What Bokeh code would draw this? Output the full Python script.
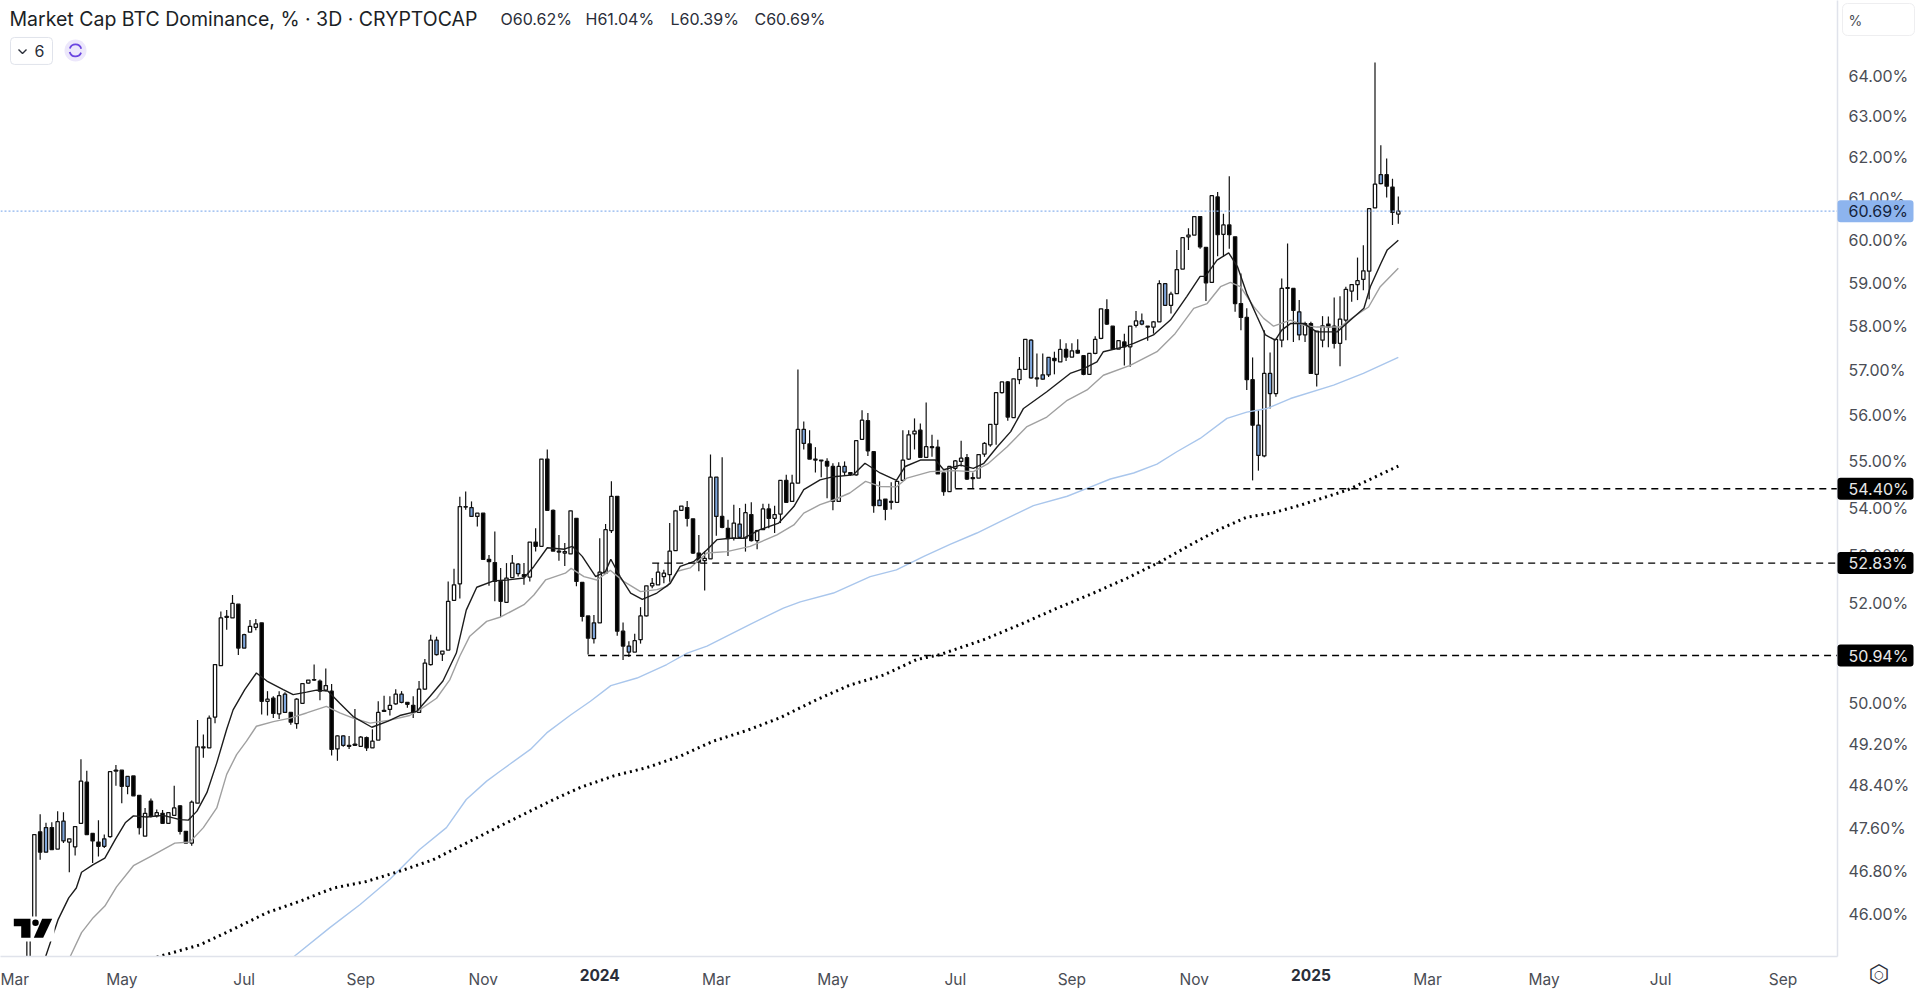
import math
from datetime import datetime, timedelta
from bokeh.plotting import figure
from bokeh.core.properties import value
from bokeh.models import Range1d, FixedTicker, PrintfTickFormatter, Quad
from bokeh.embed import file_html
from bokeh.resources import INLINE

open_ = [
44.50,45.73,47.52,47.60,47.60,47.20,47.72,47.33,47.24,47.68,
48.46,47.49,47.33,47.39,47.43,48.67,48.69,48.57,48.58,48.21,
47.44,48.10,47.82,47.87,47.68,47.83,48.01,47.53,47.31,48.06,
49.12,49.12,49.72,50.74,51.71,51.70,51.98,51.36,51.41,51.51,
51.60,50.03,50.09,49.78,50.17,49.81,49.59,49.99,50.39,50.45,
50.43,50.25,50.23,49.10,49.35,49.15,49.17,49.15,49.32,49.12,
49.27,49.83,49.87,49.98,50.17,50.01,49.95,49.81,50.27,50.76,
51.25,50.97,51.05,52.06,52.40,54.01,54.00,53.81,53.88,52.91,
52.84,52.45,52.02,52.53,52.81,52.59,52.54,53.27,53.18,55.04,
53.94,53.06,53.04,53.02,53.77,52.43,51.74,51.60,51.60,52.62,
53.51,54.24,51.43,51.13,51.01,51.26,51.74,52.36,52.38,52.55,
52.59,53.09,53.94,54.00,53.76,53.04,52.88,52.92,54.65,53.81,
53.56,53.35,53.65,53.35,53.85,53.30,53.53,53.97,53.77,53.86,
54.58,54.13,54.52,55.69,55.37,55.02,55.00,54.99,54.88,54.13,
54.88,54.75,54.70,55.47,55.88,55.20,54.16,54.18,54.11,54.11,
54.58,55.04,55.59,55.67,55.08,55.29,55.30,54.74,54.34,54.84,
54.99,55.07,54.62,54.63,55.15,55.35,55.80,56.50,56.74,55.95,
56.79,57.02,57.68,56.81,56.90,57.29,57.27,57.19,57.47,57.30,
57.45,57.33,56.91,57.38,57.72,58.38,58.00,57.48,57.64,57.53,
58.02,58.12,57.98,57.98,58.10,58.98,58.48,58.75,59.32,60.08,
60.12,60.56,59.83,59.01,61.03,60.14,60.36,60.08,58.52,58.20,
56.79,55.78,55.11,56.93,56.48,57.68,58.87,58.87,58.33,57.80,
58.06,56.91,57.68,58.05,58.00,57.61,58.14,58.81,58.96,59.08,
59.27,60.77,61.57,61.57,61.27,60.62]
close = [
45.73,47.47,47.14,47.14,47.19,47.71,47.35,47.39,47.62,48.48,
47.47,47.35,47.25,47.25,48.66,48.69,48.38,48.38,48.20,47.60,
47.87,47.82,47.88,47.68,47.88,47.97,47.53,47.31,48.08,49.14,
49.14,49.70,50.76,51.70,51.73,52.00,51.09,51.09,51.53,51.58,
50.03,50.07,49.79,50.14,49.81,49.62,50.07,50.38,50.45,50.46,
50.23,50.34,49.09,49.35,49.17,49.17,49.19,49.33,49.12,49.25,
49.81,49.85,49.95,50.17,50.01,49.97,49.81,50.27,50.79,51.25,
50.96,51.03,52.04,52.38,54.02,54.02,53.81,53.88,52.91,52.86,
52.45,52.04,52.52,52.83,52.61,52.55,53.27,53.18,55.04,53.94,
53.08,53.08,53.07,53.93,52.45,51.73,51.29,51.28,52.64,53.53,
54.24,51.43,51.13,51.01,51.24,51.74,52.36,52.41,52.64,52.62,
53.08,53.93,54.03,53.77,53.04,52.85,52.93,54.65,53.81,53.58,
53.34,53.67,53.37,53.89,53.30,53.51,53.97,53.77,53.85,54.58,
54.11,54.52,55.69,55.38,55.04,55.04,55.02,54.89,54.13,54.88,
54.76,54.71,55.44,55.89,55.22,54.04,54.04,53.96,54.13,54.56,
55.02,55.57,55.65,55.08,55.31,55.31,54.72,54.34,54.88,55.00,
55.06,54.61,54.64,55.14,55.38,55.80,56.50,56.74,55.96,56.81,
57.02,57.70,56.83,56.83,56.80,56.90,57.22,57.47,57.30,57.44,
57.39,56.91,57.38,57.70,58.40,58.05,57.48,57.67,57.53,58.00,
58.12,58.05,58.00,58.10,58.98,58.48,58.74,59.31,60.06,60.12,
60.56,59.84,59.00,61.06,60.13,60.36,60.13,58.52,58.20,56.79,
55.78,55.12,56.93,56.48,57.70,58.87,58.89,58.36,57.80,58.06,
56.93,57.89,58.01,57.98,57.61,58.16,58.85,58.96,59.05,59.28,
60.75,61.34,61.35,61.29,60.66,60.69]
high = [
45.73,47.47,47.85,47.69,47.70,47.91,47.89,47.39,47.63,48.90,
48.68,47.49,47.74,47.47,48.66,48.79,48.69,48.58,48.58,48.21,
47.97,48.15,47.94,47.93,47.89,48.39,48.02,47.53,48.11,49.66,
49.38,49.75,50.76,51.83,51.86,52.17,51.98,51.38,51.66,51.68,
51.60,50.23,50.13,50.23,50.21,49.81,50.09,50.39,50.45,50.76,
50.46,50.68,50.37,49.36,49.36,49.35,49.88,49.35,49.34,49.48,
50.03,50.14,50.13,50.27,50.23,50.01,50.13,50.43,50.87,51.36,
51.32,51.03,52.45,52.71,54.23,54.34,54.13,53.88,53.88,53.00,
53.49,52.73,52.83,53.00,52.83,52.83,53.27,53.56,55.04,55.25,
53.96,53.42,53.25,53.93,53.77,52.43,51.74,51.76,53.35,53.65,
54.56,54.24,51.61,51.23,51.38,51.92,52.36,52.52,52.83,52.69,
53.67,53.95,54.03,54.14,53.76,53.42,53.07,55.14,54.65,55.08,
53.74,54.06,53.99,54.08,54.11,53.53,54.08,54.08,54.04,54.58,
54.70,54.70,57.02,55.86,55.67,55.30,55.02,55.06,54.95,54.97,
54.99,54.75,55.44,56.11,56.05,55.20,54.56,54.18,54.54,54.56,
55.67,55.67,55.93,55.82,56.28,55.57,55.46,54.74,54.88,55.02,
55.44,55.15,54.75,55.14,55.41,55.80,56.50,56.74,56.76,56.81,
57.30,57.70,57.70,57.38,57.38,57.29,57.42,57.70,57.61,57.61,
57.70,57.34,57.38,57.77,58.40,58.62,58.00,57.67,57.83,58.00,
58.35,58.29,58.00,58.12,59.06,58.98,58.79,59.77,60.06,60.28,
60.56,60.56,59.83,61.06,61.15,60.63,61.53,60.08,59.22,58.41,
57.29,56.11,57.91,57.40,57.70,59.10,59.92,58.87,58.60,58.10,
58.10,57.89,58.23,58.22,58.66,58.69,58.91,58.96,59.59,59.88,
60.75,64.35,62.29,61.96,61.47,61.04]
low = [
44.50,45.73,47.00,47.14,47.19,47.20,47.31,46.77,47.08,47.68,
47.47,46.94,47.06,47.22,47.41,48.39,48.06,48.23,48.20,47.47,
47.44,47.79,47.79,47.68,47.68,47.83,47.47,47.31,47.26,48.06,
48.93,49.12,49.60,50.74,51.46,51.70,50.95,51.09,51.41,51.45,
49.77,49.75,49.70,49.68,49.80,49.57,49.49,49.99,50.38,50.43,
50.05,50.23,48.97,48.87,49.14,49.10,49.17,49.15,49.06,49.12,
49.27,49.83,49.75,49.96,49.99,49.90,49.70,49.81,50.26,50.74,
50.94,50.83,51.05,52.06,52.10,53.95,53.80,53.60,52.90,52.36,
52.04,51.72,52.02,52.52,52.55,52.38,52.45,53.07,53.18,53.94,
53.08,52.88,52.77,53.02,52.35,51.63,50.96,51.18,51.60,52.62,
53.46,51.34,50.85,50.91,51.01,51.18,51.73,52.31,52.38,52.41,
52.41,53.09,53.94,53.60,53.02,52.66,52.26,52.92,53.40,53.56,
52.98,53.30,53.35,53.07,53.28,53.12,53.53,53.56,53.46,53.67,
54.11,54.13,54.52,55.25,55.04,54.75,54.65,54.20,53.94,54.13,
54.68,54.68,54.68,55.47,55.11,53.89,54.04,53.73,53.96,54.11,
54.56,55.02,55.25,55.08,55.08,55.09,54.72,54.25,54.34,54.41,
54.88,54.59,54.41,54.63,55.09,55.31,55.35,56.48,55.88,55.95,
56.69,57.02,56.81,56.63,56.79,56.85,56.91,57.19,57.21,57.30,
57.38,56.89,56.91,57.36,57.70,58.03,57.48,57.48,57.11,57.08,
57.97,58.02,57.67,57.83,58.10,58.48,58.29,58.75,59.32,59.77,
60.12,59.80,58.58,59.01,59.62,59.61,59.80,58.33,57.91,56.56,
54.58,54.79,55.08,56.15,56.41,57.52,57.68,57.64,57.68,57.64,
56.93,56.64,57.52,57.52,57.49,57.09,57.68,58.56,58.60,58.83,
58.62,60.77,61.34,61.02,60.36,60.39]
blue_bars = [3,6,13,17,37,44,54,64,70,76,84,97,103,118,122,133,140,146,172,174,175,191,195,211,213,218,232]

ema_black_bar = [2.9,5.1,6.9,8.2,9.1,11.1,13.1,14.9,16.6,18,20.3,23.1,26,27.4,28.9,30.6,32.3,34,35.1,37.1,39.1,40.9,43.7,45.4,47.7,49.4,51.4,53.4,55.7,58.9,61.7,63.7,66.6,68.9,71.1,73.4,75.1,76.9,79.8,82.1,85,86.7,89,91.9,93.3,95,97.3,99,99.9,101.5,103.3,105.3,107.8,110.1,111.8,114.1,116.4,118.1,120.4,122.7,125.5,128.7,131.3,133,135.8,138.1,141.5,143.5,146.1,148.9,150.4,153,155.6,157,159.9,162.1,163.9,166.2,168.5,170.7,174.7,178.7,181,183.3,184.4,187.9,189.6,193,195.9,198.7,201,201.9,203.9,205.9,207.4,209,210.8,212.2,213.9,215,216.5,218.8,221,224.5,226.8,229.1,230.2,232,233.1,235]
ema_black_val = [45.23,45.91,46.30,46.48,46.77,46.91,47.03,47.38,47.69,47.82,47.80,47.83,47.75,47.74,47.91,48.26,48.83,49.48,49.86,50.26,50.59,50.43,50.26,50.16,50.21,50.25,50.23,49.99,49.73,49.52,49.64,49.75,49.83,50.13,50.43,50.99,51.86,52.33,52.46,52.48,52.52,52.76,53.15,53.12,53.18,52.97,52.55,52.66,52.91,52.55,52.21,52.08,52.21,52.41,52.76,52.86,53.11,53.32,53.35,53.35,53.53,53.67,54.02,54.38,54.59,54.66,54.70,54.95,54.74,54.58,54.88,55.02,55.02,54.81,54.91,54.84,54.95,55.31,55.64,56.15,56.52,56.93,57.04,57.19,57.42,57.53,57.61,57.80,58.14,58.68,59.15,59.15,59.53,59.70,59.38,58.75,58.21,57.80,57.68,57.91,58.06,58.06,57.87,57.87,58.14,58.41,58.91,59.45,59.77,60.00]
ema_gray_bar = [7.1,9.1,11.1,13.1,15.1,18,20.9,25.1,27.7,30,32.3,34,35.7,37.4,39.1,42,44.9,47.7,51.1,53.4,55.7,58.6,62,65.4,67.1,70,72.3,74,75.7,78.6,81,85,86.7,88.7,92.1,93.1,95.3,97.5,99.8,102.1,105,107.8,109.6,111.3,113.5,116.4,119.8,123.8,128.4,131.3,133,135.8,138.1,140.9,143.6,146.1,148.9,150.7,154.7,158.7,162.1,164.7,167.9,171.3,174.7,178.2,181.6,184.4,189,193.6,196.7,199.9,202.2,204.5,206.2,207.9,210.2,211.9,213.6,216.5,218.8,221,225,227.3,229.9,231.9,235]
ema_gray_val = [45.23,45.67,45.94,46.15,46.50,46.89,47.06,47.31,47.33,47.60,47.97,48.61,48.99,49.25,49.54,49.63,49.70,49.80,49.93,49.80,49.70,49.60,49.66,49.75,49.86,50.09,50.46,50.93,51.33,51.63,51.72,51.97,52.17,52.48,52.62,52.72,52.55,52.48,52.68,52.45,52.24,52.28,52.35,52.66,52.73,53.04,53.07,53.18,53.42,53.63,53.88,54.06,54.16,54.31,54.56,54.45,54.44,54.63,54.77,54.79,54.77,54.95,55.31,55.75,55.96,56.33,56.56,56.89,57.11,57.42,57.83,58.41,58.52,58.91,59.01,58.91,58.45,58.18,58.00,58.14,58.02,57.98,57.98,58.21,58.44,58.91,59.34]
ma_blue_bar = [45.4,51.7,56.9,62,67.1,71.7,75.1,78.6,80.9,86.1,88.9,93,96.4,99.9,104.4,109.5,113,116.4,123.8,129.5,132.4,138.1,144.4,148.9,153.6,158.1,162.7,166.7,172.4,178.2,181.6,185.6,189.6,193.6,197,201,205.6,209,212.5,216.5,223.9,229,235]
ma_blue_val = [45.23,45.76,46.18,46.64,47.19,47.60,48.13,48.48,48.67,49.09,49.41,49.76,50.03,50.34,50.49,50.76,50.99,51.13,51.57,51.90,52.03,52.21,52.55,52.69,52.97,53.22,53.46,53.70,54.04,54.24,54.41,54.61,54.74,54.93,55.20,55.49,55.93,56.07,56.15,56.37,56.67,56.93,57.29]
ma_dotted_bar = [22,29.4,35.1,40.9,46.6,52.3,58,63.7,69.4,75.1,80.9,85.5,90.1,94.7,100.4,106.1,111.8,117.5,123.3,129,135.2,140.9,146.7,152.4,156.4,163.9,170.2,175.9,182.7,188.5,194.2,199.9,204.2,208.9,213.6,218.2,226.2,235]
ma_dotted_val = [45.23,45.45,45.73,46.03,46.24,46.48,46.60,46.79,47.00,47.31,47.63,47.88,48.13,48.36,48.58,48.74,48.96,49.25,49.46,49.71,50.06,50.35,50.55,50.86,50.96,51.26,51.57,51.87,52.21,52.52,52.86,53.25,53.53,53.79,53.89,54.05,54.37,54.89]

last_close = 60.69
level_vals = [54.40, 52.83, 50.94]
level_from_bar = [159, 107, 96]
y_ticks = [64,63,62,61,60,59,58,57,56,55,54,53,52,51,50,49.2,48.4,47.6,46.8,46]
month_ticks = [(2023,3,"Mar"),(2023,5,"May"),(2023,7,"Jul"),(2023,9,"Sep"),(2023,11,"Nov"),(2024,1,""),(2024,3,"Mar"),(2024,5,"May"),(2024,7,"Jul"),(2024,9,"Sep"),(2024,11,"Nov"),(2025,1,""),(2025,3,"Mar"),(2025,5,"May"),(2025,7,"Jul"),(2025,9,"Sep")]
year_ticks = [(2024,1,"2024"),(2025,1,"2025")]

# ---- scales: page pixels <-> data (only used for framing and decoration)
START = datetime(2023, 3, 14)
STEP_PX = 5.829
PX0 = 28.0
W, H = 1920, 991
def bar_dt(k):
    return START + timedelta(days=3 * k)
def ms(d):
    return (d - datetime(1970, 1, 1)).total_seconds() * 1000.0
def X(px):
    return ms(bar_dt((px - PX0) / STEP_PX))
def Y(py):
    return 64.0 * math.exp(-(py - 76.0) / 2540.0)
def py_of(v):
    return 76.0 + 2540.0 * math.log(64.0 / v)

FRAME_L, FRAME_R, FRAME_T, FRAME_B = 0, 1837, 0, 957
AXIS_C = "#e0e3eb"
TXT = "#4a4d55"
BLUE = "#7ea6dc"
PRICE = "#8db4ee"

p = figure(width=W, height=H, output_backend="svg", toolbar_location=None,
           x_axis_type="datetime", y_axis_type="log", y_axis_location="right",
           x_range=Range1d(X(FRAME_L), X(FRAME_R)), y_range=Range1d(Y(FRAME_B), Y(FRAME_T)),
           min_border_left=0, min_border_right=W - FRAME_R, min_border_top=0, min_border_bottom=H - FRAME_B,
           background_fill_color="white", border_fill_color="white", outline_line_color=None)
p.grid.visible = False

# axes
p.yaxis.ticker = FixedTicker(ticks=y_ticks)
p.yaxis.formatter = PrintfTickFormatter(format="%.2f%%")
p.yaxis.major_tick_line_color = None
p.yaxis.minor_tick_line_color = None
p.yaxis.axis_line_color = AXIS_C
p.yaxis.axis_line_width = 1.5
p.yaxis.major_label_text_font = "Inter"
p.yaxis.major_label_text_font_size = "16px"
p.yaxis.major_label_text_color = TXT
p.yaxis.major_label_standoff = 5

def first_bar_of_month(y, m):
    days = (datetime(y, m, 1) - START).days
    return math.ceil(days / 3)
tick_ms = [ms(bar_dt(first_bar_of_month(y, m))) for y, m, _ in month_ticks]
p.xaxis.ticker = FixedTicker(ticks=tick_ms)
p.xaxis.major_label_overrides = {t: lab for t, (_, _, lab) in zip(tick_ms, month_ticks)}
p.xaxis.major_tick_line_color = None
p.xaxis.minor_tick_line_color = None
p.xaxis.axis_line_color = AXIS_C
p.xaxis.axis_line_width = 1.5
p.xaxis.major_label_text_font = "Inter"
p.xaxis.major_label_text_font_size = "15.5px"
p.xaxis.major_label_text_color = TXT
p.xaxis.major_label_standoff = 7

# candles
n = len(close)
xs = [bar_dt(k) for k in range(n)]
tops = [max(o, c) for o, c in zip(open_, close)]
bots = [min(o, c) for o, c in zip(open_, close)]
fills = []
for k in range(n):
    if k in blue_bars:
        fills.append(BLUE)
    elif close[k] >= open_[k]:
        fills.append("#ffffff")
    else:
        fills.append("#000000")
p.segment(xs, high, xs, low, line_color="#111111", line_width=1.2)
p.vbar(x=xs, top=tops, bottom=bots, width=1.7 * 86400000, fill_color=fills, line_color="#111111", line_width=1.25)

# moving averages
def bx(arr):
    return [bar_dt(k) for k in arr]
p.line(bx(ma_blue_bar), ma_blue_val, line_color="#a9c6ec", line_width=1.4)
p.line(bx(ma_dotted_bar), ma_dotted_val, line_color="#000000", line_width=3, line_dash="2 4")
p.line(bx(ema_gray_bar), ema_gray_val, line_color="#a0a0a0", line_width=1.4)
p.line(bx(ema_black_bar), ema_black_val, line_color="#1c1c1c", line_width=1.4)

# levels
x_end = datetime(1970, 1, 1) + timedelta(milliseconds=X(FRAME_R))
for v, k in zip(level_vals, level_from_bar):
    p.segment([bar_dt(k)], [v], [x_end], [v], line_color="#000000", line_width=1.4, line_dash="7 5")
p.segment([datetime(1970, 1, 1) + timedelta(milliseconds=X(FRAME_L))], [last_close], [x_end], [last_close],
          line_color=PRICE, line_width=1.2, line_dash="2 2")

# text and boxes drawn at overlay level are not clipped to the frame
RADIUS = {"border_radius": 3} if "border_radius" in Quad.properties() else {}
def box(x0, y0, x1, y1, fill, line=None, radius=None):
    kw = dict(RADIUS)
    if radius is not None and kw:
        kw["border_radius"] = radius
    p.quad(left=[X(x0)], right=[X(x1)], top=[Y(y0)], bottom=[Y(y1)], fill_color=fill, line_color=line,
           level="overlay", **kw)
def text(px, py, s, size, color, font="Inter", style="normal", align="left"):
    p.text([X(px)], [Y(py)], text=[s], text_font=value(font), text_font_size=value(size), text_color=color,
           text_baseline="middle", text_align=align, text_font_style=style, level="overlay")

# badges
def badge(v, bg, fg):
    c = py_of(v)
    box(1837, c - 11, 1913, c + 11, bg)
    text(1848, c, "%.2f%%" % v, "16px", fg)
badge(last_close, PRICE, "#14233c")
for v in level_vals:
    badge(v, "#000000", "#e8e8e8")

# header
text(9, 19, "Market Cap BTC Dominance, % · 3D · CRYPTOCAP", "19.5px", "#1c1f26")
for px, s in [(500, "O60.62%"), (585, "H61.04%"), (670, "L60.39%"), (754, "C60.69%")]:
    text(px, 19, s, "16px", "#2a2e39")

# "6" box + sync icon
box(10, 37, 52, 64, "#ffffff", line=AXIS_C, radius=4)
text(34, 51, "6", "16px", "#2a2e39")
p.line([X(18), X(22), X(26)], [Y(49), Y(53), Y(49)], line_color="#2a2e39", line_width=1.4, level="overlay")
p.scatter([X(75)], [Y(50)], size=22, color="#ece7fb", line_color=None)
p.arc([X(75)], [Y(50)], radius=6, radius_units="screen", start_angle=0.3, end_angle=2.8, line_color="#6a45e0", line_width=1.8)
p.arc([X(75)], [Y(50)], radius=6, radius_units="screen", start_angle=3.4, end_angle=5.9, line_color="#6a45e0", line_width=1.8)

# "%" box
box(1842, 3, 1914, 35, "#ffffff", line="#eeeef0", radius=5)
text(1848, 20, "%", "14px", TXT)

# TradingView logo
p.quad(left=[X(11)], right=[X(54)], top=[Y(917)], bottom=[Y(942)], fill_color="white", line_color=None)
logo_x = [[13.3, 30, 30, 20.7, 20.7, 13.3], [41.7, 51.7, 42.7, 33.3]]
logo_y = [[919.3, 919.3, 938.3, 938.3, 926.7, 926.7], [919.3, 919.3, 938.3, 938.3]]
p.patches([[X(a) for a in r] for r in logo_x], [[Y(b) for b in r] for r in logo_y], fill_color="#000000", line_color=None)
p.scatter([X(35)], [Y(923.3)], size=6.5, color="#000000", line_color=None)

# bold year labels and the settings glyph on the time axis
for y, m, s in year_ticks:
    lx = 28 + 5.829 * first_bar_of_month(y, m)
    text(lx, 976, s, "15.5px", "#2a2e39", style="bold", align="center")
text(1878.5, 975, "\u2b21", "24px", "#2a2e39", font="DejaVu Sans", align="center")
text(1878.5, 975, "\u25cb", "11px", "#2a2e39", font="DejaVu Sans", align="center")

open("out.html", "w").write(file_html(p, INLINE))
